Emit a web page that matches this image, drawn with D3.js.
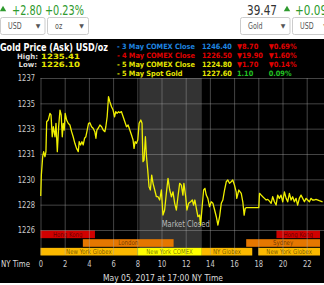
<!DOCTYPE html>
<html>
<head>
<meta charset="utf-8">
<script src="https://cdn.jsdelivr.net/npm/d3@7"></script>
<style>
body{margin:0;background:#fff}
svg{display:block}
text{font-family:"DejaVu Sans",sans-serif}
</style>
</head>
<body>
<svg id="chart" width="324" height="285"></svg>
<script>
// ---- data ----
const hourTicks = [0,2,4,6,8,10,12,14,16,18,20,22]
const priceTicks = [1225.9,1227.75,1229.6,1231.45,1233.3,1235.15,1237.0]
const marketClosed = [8.17,13.33]

// [NY hour, ask price]
const priceSeries = [
 [0.02,1228.38],[0.07,1229.91],[0.18,1231.25],[0.26,1231.62],[0.37,1231.25],[0.45,1231.62],
 [0.51,1233.81],[0.64,1233.93],[0.78,1234.42],[0.87,1234.30],[0.97,1232.71],[1.06,1233.44],
 [1.20,1232.71],[1.28,1233.69],[1.39,1231.62],[1.50,1233.44],[1.61,1234.66],[1.71,1234.30],
 [1.80,1232.71],[1.88,1233.69],[1.96,1233.20],[2.04,1234.42],[2.16,1233.93],[2.29,1233.69],
 [2.43,1233.57],[2.57,1233.08],[2.70,1232.71],[2.84,1232.23],[2.98,1231.86],[3.12,1231.62],
 [3.20,1232.35],[3.31,1232.11],[3.42,1232.35],[3.53,1232.11],[3.64,1232.60],[3.75,1232.71],
 [3.86,1233.20],[3.97,1233.69],[4.08,1233.73],[4.22,1233.44],[4.35,1233.33],[4.49,1233.08],
 [4.58,1232.60],[4.66,1233.20],[4.77,1233.33],[4.91,1233.57],[5.05,1233.44],[5.18,1233.20],
 [5.32,1233.08],[5.40,1233.44],[5.51,1234.17],[5.62,1235.63],[5.73,1235.27],[5.87,1234.90],
 [6.00,1234.66],[6.12,1234.17],[6.22,1234.54],[6.33,1234.42],[6.45,1234.54],[6.55,1234.47],
 [6.69,1234.54],[6.83,1234.17],[6.97,1233.81],[7.11,1233.44],[7.24,1233.57],[7.38,1233.20],
 [7.52,1232.84],[7.65,1232.47],[7.73,1231.86],[7.82,1232.35],[7.93,1232.23],[8.04,1232.47],
 [8.15,1233.69],[8.29,1233.93],[8.39,1233.69],[8.47,1230.89],[8.56,1231.01],[8.67,1232.71],
 [8.76,1231.25],[8.86,1230.28],[8.97,1229.06],[9.08,1228.82],[9.19,1229.91],[9.30,1229.31],
 [9.44,1228.82],[9.58,1228.33],[9.71,1228.33],[9.85,1228.09],[9.99,1228.82],[10.12,1226.99],
 [10.26,1227.36],[10.40,1228.58],[10.54,1229.67],[10.68,1228.82],[10.82,1228.33],[10.95,1228.69],
 [11.09,1227.85],[11.23,1227.36],[11.36,1228.33],[11.50,1229.31],[11.64,1229.18],[11.77,1228.45],
 [11.85,1229.31],[12.00,1228.33],[12.10,1227.36],[12.24,1227.85],[12.41,1227.96],[12.55,1228.09],
 [12.65,1227.72],[12.76,1228.09],[12.88,1227.48],[13.01,1226.87],[13.15,1226.99],[13.23,1226.26],
 [13.37,1227.72],[13.48,1228.82],[13.59,1228.94],[13.70,1228.45],[13.83,1228.21],[13.97,1227.60],
 [14.11,1227.96],[14.25,1227.85],[14.39,1227.36],[14.53,1226.87],[14.66,1226.26],[14.80,1226.87],
 [14.94,1227.85],[15.07,1228.09],[15.21,1228.82],[15.35,1229.42],[15.48,1229.55],[15.62,1229.31],
 [15.76,1229.42],[15.89,1229.55],[16.03,1229.18],[16.17,1228.69],[16.22,1228.21],[16.39,1228.82],
 [16.59,1228.58],[16.72,1227.96],[16.83,1226.99],[16.92,1227.48],[17.00,1227.53],[18.04,1227.53],
 [18.10,1228.58],[18.24,1228.45],[18.37,1228.33],[18.51,1228.21],[18.65,1228.09],[18.78,1228.14],
 [18.92,1228.01],[19.06,1227.85],[19.19,1228.33],[19.33,1227.96],[19.47,1227.72],[19.60,1228.45],
 [19.74,1228.21],[19.88,1228.45],[20.02,1227.96],[20.16,1228.69],[20.30,1228.21],[20.43,1227.96],
 [20.57,1228.58],[20.71,1228.09],[20.84,1228.33],[20.98,1227.96],[21.12,1228.21],[21.25,1227.72],
 [21.39,1228.21],[21.53,1228.45],[21.67,1228.21],[21.81,1227.96],[21.95,1228.21],[22.08,1228.09],
 [22.22,1227.96],[22.36,1228.21],[22.49,1228.09],[22.63,1228.09],[22.77,1228.14],[23.04,1228.04],
 [23.31,1227.96]
]

const closeLabels = ["- 3 May COMEX Close","- 4 May COMEX Close","- 5 May COMEX Close","- 5 May Spot Gold"]
const closePrices = ["1246.40","1226.50","1224.80","1227.60"]
const closeChanges = ["▼8.70","▼19.90","▼1.70","1.10"]
const closePercents = ["▼0.69%","▼1.60%","▼0.14%","0.09%"]

const sessions = [
 {market:"Hong Kong", label:"Hong Kong", from:0, to:4.5},
 {market:"Hong Kong", label:"Hong Kong", from:19.5, to:23.1},
 {market:"London", label:"London", from:3.5, to:11},
 {market:"Sydney", label:"Sydney", from:17, to:23.1},
 {market:"Globex", label:"New York Globex", from:0, to:8},
 {market:"COMEX", label:"New York COMEX", from:8, to:13.33},
 {market:"Globex", label:"NY Globex", from:13.33, to:17.5},
 {market:"Globex", label:"New York Globex", from:18, to:23.1}
]

// the picture is squashed sideways, so texts get narrowed
function squeeze(sel, k = 0.75){
    sel.each(function(){
        let w = this.getComputedTextLength()
        if (w > 0){
            this.setAttribute("textLength", w*k)
            this.setAttribute("lengthAdjust", "spacingAndGlyphs")
        }
    })
}
function fitTo(sel, w){
    sel.attr("textLength", w).attr("lengthAdjust","spacingAndGlyphs")
}

let svg = d3.select("#chart")
let W = 324

// ---- top white strip ----
let tri = d3.symbol().type(d3.symbolTriangle).size(18)
svg.append("path").attr("d", tri).attr("transform","translate(3,9.5)").attr("fill","#2e9a2e")
svg.append("text").attr("x",12).attr("y",14.5).attr("font-family","Liberation Sans")
    .attr("font-size",14).attr("fill","#2e9a2e").text("+2.80 +0.23%").call(fitTo,72)
svg.append("text").attr("x",247).attr("y",14.5).attr("font-family","Liberation Sans")
    .attr("font-size",14).attr("fill","#333").text("39.47").call(fitTo,30)
svg.append("path").attr("d", tri).attr("transform","translate(287,9.5)").attr("fill","#2e9a2e")
svg.append("text").attr("x",295).attr("y",14.5).attr("font-family","Liberation Sans")
    .attr("font-size",14).attr("fill","#2e9a2e").text("+0.09").call(squeeze)

let boxes = [
    {x:0.5, w:44.5, t:"USD"}, {x:47.5, w:41, t:"oz"},
    {x:240.5, w:49.5, t:"Gold"}, {x:292.5, w:40, t:"USD"}
]
let box = svg.selectAll(".box").data(boxes).join("g").attr("class","box")
box.append("rect").attr("x",d=>d.x).attr("y",17.5).attr("width",d=>d.w).attr("height",17)
    .attr("rx",2).attr("fill","#fff").attr("stroke","#ccc")
box.append("text").attr("x",d=>d.x+7.5).attr("y",28.5).attr("font-family","Liberation Sans")
    .attr("font-size",8.5).attr("fill","#555").text(d=>d.t).call(squeeze)
box.append("text").attr("x",d=>d.x+d.w-7).attr("y",28).attr("font-size",6).attr("fill","#555")
    .attr("text-anchor","middle").text("▼")

// ---- black panel ----
svg.append("rect").attr("x",0).attr("y",39).attr("width",W).attr("height",244).attr("fill","#000")

svg.append("text").attr("x",0).attr("y",50.5).attr("font-size",10).attr("font-weight","bold")
    .attr("fill","#fff").text("Gold Price (Ask) USD/oz").call(fitTo,108)
let hiLo = [["High:","1235.41",58.5,17,21],["Low:","1226.10",67,18.5,18.5]]
hiLo.forEach(r=>{
    svg.append("text").attr("x",r[3]).attr("y",r[2]).attr("font-size",7.3).attr("font-weight","bold")
        .attr("fill","#ddd").text(r[0]).call(fitTo,r[4])
    svg.append("text").attr("x",41).attr("y",r[2]).attr("font-size",7.3).attr("font-weight","bold")
        .attr("fill","#e6e600").text(r[1]).call(fitTo,39)
})

let rowColor = ["#1f86e0","#e00000","#e6e600","#e6e600"]
let chgColor = ["#e00000","#e00000","#e00000","#22c022"]
let legendY = d3.scalePoint().domain(d3.range(closeLabels.length)).range([48.5,75.5])
let cols = [[117,closeLabels,rowColor],[202,closePrices,rowColor],[237,closeChanges,chgColor],[268.7,closePercents,chgColor]]
cols.forEach(c=>{
    svg.append("g").selectAll("text").data(c[1]).join("text")
        .attr("x",c[0]).attr("y",(d,i)=>legendY(i))
        .attr("font-size",7.3).attr("font-weight","bold")
        .attr("fill",(d,i)=>c[2][i]).text(d=>d).call(squeeze,0.9)
})

// ---- plot ----
let x = d3.scaleLinear().domain([0,24]).range([40.5,40.5+24*12.1])
let y = d3.scaleLinear().domain([1225.9,1237.0]).range([230,78])
let plotTop = 78, plotBottom = 255

svg.append("rect").attr("x",x(marketClosed[0])).attr("y",plotTop)
    .attr("width",x(marketClosed[1])-x(marketClosed[0])).attr("height",plotBottom-plotTop)
    .attr("fill","#333")

// session bars
let sessionRow = {"Hong Kong":0,"London":1,"Sydney":1,"Globex":2,"COMEX":2}
let sessionColor = d3.scaleOrdinal().domain(["Hong Kong","London","Sydney","Globex","COMEX"])
    .range(["#d00000","#e57700","#e57700","#fbb900","#ffff00"])
let band = d3.scaleBand().domain([0,1,2]).range([230.5,255.5]).paddingInner(0.12)
svg.append("g").selectAll("rect").data(sessions).join("rect")
    .attr("x",d=>x(d.from)).attr("width",d=>Math.min(x(d.to),W)-x(d.from))
    .attr("y",d=>band(sessionRow[d.market])).attr("height",band.bandwidth())
    .attr("fill",d=>sessionColor(d.market))
svg.append("g").selectAll("text").data(sessions).join("text")
    .attr("x",d=>(x(d.from)+Math.min(x(d.to),W))/2)
    .attr("y",d=>band(sessionRow[d.market])+band.bandwidth()/2+2.3)
    .attr("text-anchor","middle").attr("font-size",6.8)
    .attr("fill","#000").attr("fill-opacity",0.55).text(d=>d.label).call(squeeze,0.8)

// grid + axes
let xAxis = svg.append("g").attr("transform",`translate(0,${plotBottom})`)
    .call(d3.axisBottom(x).tickValues(hourTicks).tickSize(-(plotBottom-plotTop)).tickPadding(5.6))
let yAxis = svg.append("g").attr("transform",`translate(${x(0)},0)`)
    .call(d3.axisLeft(y).tickValues(priceTicks).tickFormat(d3.format(".0f"))
        .tickSize(-(W-x(0))).tickPadding(5.5))
;[xAxis,yAxis].forEach(a=>{
    a.select(".domain").remove()
    a.selectAll("line").attr("stroke","#aaa").attr("stroke-opacity",0.4)
    a.selectAll("text").attr("font-size",9).attr("fill","#ccc").attr("font-family","DejaVu Sans").call(squeeze)
})

svg.append("text").attr("x",1).attr("y",267).attr("font-size",9).attr("fill","#ddd")
    .text("NY Time").call(fitTo,29)

svg.append("text").attr("x",x(12)).attr("y",226.5).attr("text-anchor","middle")
    .attr("font-size",8).attr("fill","#bbb").text("Market Closed").call(fitTo,48)

let line = d3.line().x(d=>x(d[0])).y(d=>y(d[1]))
svg.append("path").datum(priceSeries).attr("d",line)
    .attr("fill","none").attr("stroke","#f0f000").attr("stroke-width",1.3)
    .attr("stroke-linejoin","round")

svg.append("text").attr("x",163).attr("y",281).attr("text-anchor","middle")
    .attr("font-size",9).attr("fill","#ddd").text("May 05, 2017 at 17:00 NY Time").call(fitTo,120)
</script>
</body>
</html>
